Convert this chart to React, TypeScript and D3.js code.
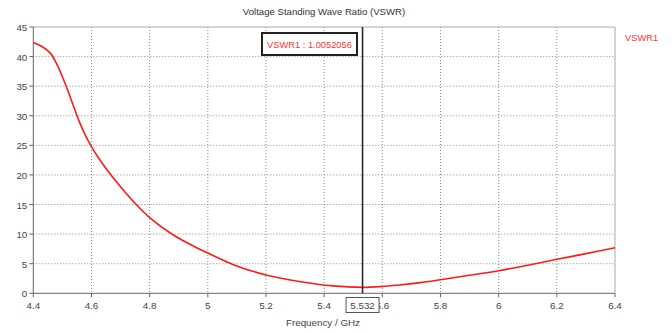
import React from "react";
import * as d3 from "d3";

const freqs = [4.4, 4.43, 4.46, 4.48, 4.5, 4.52, 4.54, 4.56, 4.58, 4.6, 4.62, 4.65, 4.7, 4.75, 4.8, 4.88, 4.95, 5.0, 5.09, 5.2, 5.32, 5.43, 5.532, 5.6, 5.66, 5.73, 5.8, 5.9, 6.0, 6.1, 6.2, 6.3, 6.4];
const vswr = [42.4, 41.7, 40.5, 38.8, 36.6, 34.1, 31.4, 28.8, 26.6, 24.8, 23.2, 21.1, 18.0, 15.2, 12.8, 9.9, 8.0, 6.8, 4.8, 3.1, 1.95, 1.25, 1.005, 1.15, 1.4, 1.8, 2.3, 3.05, 3.82, 4.75, 5.74, 6.7, 7.7];
const xTicks = [4.4, 4.6, 4.8, 5.0, 5.2, 5.4, 5.6, 5.8, 6.0, 6.2, 6.4];
const yTicks = [0, 5, 10, 15, 20, 25, 30, 35, 40, 45];
const markerFreq = 5.532;
const markerValue = "1.0052056";
const seriesName = "VSWR1";
const title = "Voltage Standing Wave Ratio (VSWR)";
const xLabel = "Frequency / GHz";

export default function App() {
  const W = 672, H = 333;
  const L = 33.3, R = 615, T = 27, B = 293.3;
  const x = d3.scaleLinear().domain([4.4, 6.4]).range([L, R]);
  const y = d3.scaleLinear().domain([0, 45]).range([B, T]);
  const line = d3.line<number>().x((_, i) => x(freqs[i])).y((d) => y(d)).curve(d3.curveCatmullRom.alpha(0.5));
  const font = "'Liberation Sans', Arial, sans-serif";
  const mx = x(markerFreq);
  const fs = 9.8;
  return (
    <svg width={W} height={H} style={{ position: "absolute", left: 0, top: 0, background: "#fff" }} fontFamily={font}>
      <rect width={W} height={H} fill="#fff" />
      <text x={324} y={15} fontSize={9.6} fill="#333" textAnchor="middle">{title}</text>
      {xTicks.slice(1, -1).map((t) => (
        <line key={"gx" + t} x1={x(t)} x2={x(t)} y1={T} y2={B} stroke="#888" strokeWidth={1} strokeDasharray="1,2" />
      ))}
      {yTicks.slice(1, -1).map((t) => (
        <line key={"gy" + t} x1={L} x2={R} y1={y(t)} y2={y(t)} stroke="#888" strokeWidth={1} strokeDasharray="1,2" />
      ))}
      <line x1={L} x2={R} y1={T} y2={T} stroke="#aaa" />
      <line x1={R} x2={R} y1={T} y2={B} stroke="#aaa" />
      <line x1={L} x2={L} y1={T} y2={B} stroke="#666" />
      <line x1={L} x2={R} y1={B} y2={B} stroke="#666" />
      {yTicks.map((t) => (
        <g key={"yt" + t}>
          <line x1={L - 4} x2={L} y1={y(t)} y2={y(t)} stroke="#666" />
          <text x={L - 6} y={y(t) + 4} fontSize={fs} fill="#444" textAnchor="end">{t}</text>
        </g>
      ))}
      {xTicks.map((t) => (
        <g key={"xt" + t}>
          <line x1={x(t)} x2={x(t)} y1={B} y2={B + 4} stroke="#666" />
          <text x={x(t)} y={B + 16} fontSize={fs} fill="#444" textAnchor="middle">{String(t)}</text>
        </g>
      ))}
      <text x={323} y={326} fontSize={fs} fill="#444" textAnchor="middle">{xLabel}</text>
      <path d={line(vswr) || ""} fill="none" stroke="#ff1a1a" strokeWidth={1.6} />
      <line x1={mx} x2={mx} y1={T} y2={B} stroke="#222" strokeWidth={1.5} />
      <rect x={mx - 16.5} y={297.5} width={33} height={15} fill="#fff" stroke="#555" />
      <text x={mx} y={309} fontSize={fs} fill="#444" textAnchor="middle">{markerFreq}</text>
      <rect x={262} y={33} width={95} height={22} fill="#fff" stroke="#222" strokeWidth={2} />
      <text x={309.5} y={47.5} fontSize={9.3} fill="#ff3333" textAnchor="middle">{seriesName + " : " + markerValue}</text>
      <text x={625} y={41} fontSize={9.3} fill="#ff3333">{seriesName}</text>
    </svg>
  );
}
